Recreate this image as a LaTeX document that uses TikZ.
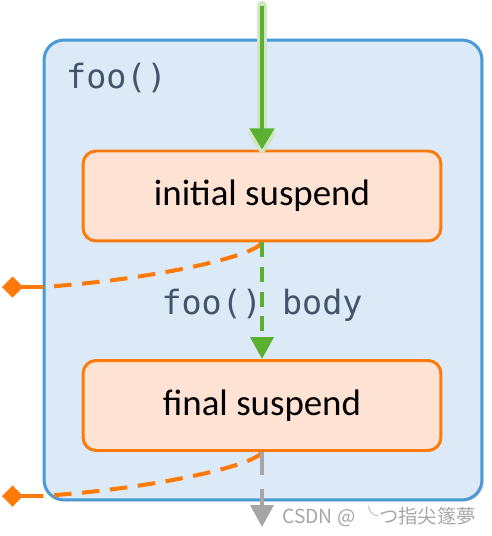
\documentclass[tikz,border=0pt]{standalone}
\usepackage{fontspec}
\setmainfont{Carlito}
\setmonofont{DejaVu Sans Mono}
\newfontfamily\cjk{Noto Sans CJK SC}
\usetikzlibrary{arrows.meta,shadows}
\definecolor{frameblue}{HTML}{4A9AD8}
\definecolor{framefill}{HTML}{DCEAF7}
\definecolor{susporange}{HTML}{FF7A0A}
\definecolor{suspfill}{HTML}{FEE2D3}
\definecolor{flowgreen}{HTML}{5BB032}
\definecolor{codegray}{HTML}{44546A}
\definecolor{markgray}{HTML}{A6A6A6}
\begin{document}
\begin{tikzpicture}[x=0.02cm, y=-0.02cm,
    frame/.style={draw=frameblue, fill=framefill, line width=1.7pt, rounded corners=0.4cm,
        minimum width=8.76cm, minimum height=9.2cm,
        drop shadow={opacity=0.25, shadow xshift=1pt, shadow yshift=-1pt}},
    suspbox/.style={draw=susporange, fill=suspfill, line width=1.7pt, rounded corners=0.26cm,
        minimum width=7.16cm, minimum height=1.8cm, font=\fontsize{21}{25}\selectfont},
    code/.style={text=codegray, font=\ttfamily\fontsize{19}{22}\selectfont},
    glow/.style={flowgreen!30, line width=6pt, line cap=round,
        -{Triangle[width=18pt,length=15pt,round]}},
    flow/.style={flowgreen, line width=2.8pt, -{Triangle[width=13.5pt,length=12pt]}},
    flowdash/.style={flowgreen, line width=2.3pt, dash pattern=on 8.5pt off 5.5pt,
        -{Triangle[width=13pt,length=12.5pt]}},
    donedash/.style={markgray, line width=2.3pt, dash pattern=on 13pt off 8pt,
        -{Triangle[width=13pt,length=12.5pt]}},
    exitline/.style={susporange, line width=2.3pt, dash pattern=on 10pt off 6pt},
    exittip/.style={susporange, line width=2.3pt, -{Diamond[width=12pt,length=12pt]}},
    credit/.style={text=markgray, font=\cjk\fontsize{11}{13}\selectfont}]
    \useasboundingbox (0,0) rectangle (492,536);

    \node[frame] (foo) at (263,270) {};
    \node[code, anchor=west] (name) at (60,78) {foo()};

    \node[suspbox] (init) at (262,196) {initial suspend};
    \node[suspbox] (final) at (262,405.5) {final suspend};

    \coordinate (c1) at (42,287);
    \coordinate (d1) at (2,287);
    \coordinate (c2) at (42,496);
    \coordinate (d2) at (2,496);
    \draw[exitline] (init.south) .. controls +(-7,14) and +(108,-7) .. (c1);
    \draw[exittip] (c1) -- (d1);
    \draw[exitline] (final.south) .. controls +(-7,14) and +(108,-7) .. (c2);
    \draw[exittip] (c2) -- (d2);

    \coordinate (src) at (262,6);
    \coordinate (ret) at (262,527);
    \draw[glow] (src) -- ([yshift=-2pt]init.north);
    \draw[flow] (src) -- (init.north);
    \node[code] (body) at (262,305) {foo() body};
    \draw[flowdash] (init.south) -- (final.north);
    \draw[donedash] (final.south) -- (ret);

    \node[credit, anchor=west] (mark) at (276,517) {CSDN @ ╰つ指尖篴夢};
\end{tikzpicture}
\end{document}
